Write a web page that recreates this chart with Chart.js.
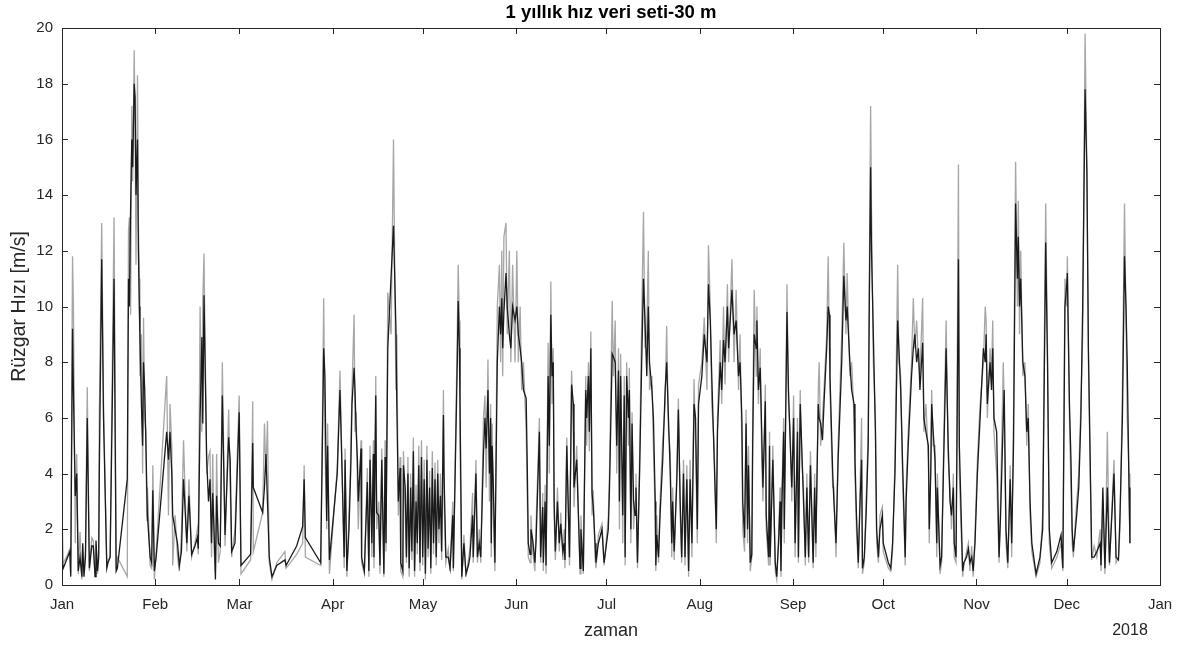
<!DOCTYPE html>
<html>
<head>
<meta charset="utf-8">
<script src="https://cdn.jsdelivr.net/npm/chart.js@4/dist/chart.umd.min.js"></script>
<style>
  html, body { margin: 0; padding: 0; background: #fff; }
  #wrap { width: 1190px; height: 646px; }
</style>
</head>
<body>
<div id="wrap"><canvas id="windChart" width="1190" height="646"></canvas></div>
<script>
// Month tick positions (day of year) and labels
const monthStarts = [0, 31, 59, 90, 120, 151, 181, 212, 243, 273, 304, 334, 365];
const monthLabels = ['Jan', 'Feb', 'Mar', 'Apr', 'May', 'Jun', 'Jul', 'Aug', 'Sep', 'Oct', 'Nov', 'Dec', 'Jan'];
const yearLabel = '2018';

// Day of year for every sample
const days = [
  0.0, 0.4, 1.5, 2.6, 2.9, 3.5, 3.8, 4.4, 4.9, 5.4, 6.0, 6.6, 6.9, 7.3, 7.8, 8.4, 9.1, 9.9, 10.4, 11.0,
  11.3, 11.8, 12.2, 12.4, 13.2, 13.8, 14.9, 15.3, 16.0, 17.3, 18.0, 18.4, 21.7, 22.1, 22.4, 22.8, 23.2, 23.5, 24.0, 24.3,
  24.6, 25.1, 25.4, 25.7, 25.9, 26.4, 26.8, 27.1, 27.5, 27.9, 28.2, 28.4, 29.3, 29.8, 30.2, 30.7, 31.3, 34.8, 35.4, 35.9,
  36.5, 36.8, 37.6, 38.4, 39.0, 39.7, 40.4, 41.5, 42.2, 43.1, 44.2, 45.0, 45.3, 45.9, 46.5, 46.8, 47.2, 48.1, 48.7, 49.2,
  49.7, 50.1, 50.6, 51.0, 51.4, 52.0, 52.6, 53.3, 54.2, 55.4, 55.9, 56.4, 57.5, 58.9, 59.5, 62.7, 63.4, 63.6, 66.7, 67.3,
  67.8, 68.3, 68.9, 69.8, 71.4, 74.1, 74.5, 78.0, 80.0, 80.5, 80.9, 86.0, 87.0, 87.4, 88.0, 88.3, 88.9, 91.5, 92.4, 93.0,
  93.8, 94.1, 94.7, 95.4, 96.0, 96.4, 97.1, 97.4, 97.8, 98.2, 98.5, 99.4, 99.6, 100.5, 101.5, 102.0, 102.4, 103.0, 103.5, 103.7,
  104.3, 104.6, 105.3, 105.7, 106.3, 107.0, 107.4, 107.7, 108.3, 109.4, 110.2, 111.0, 111.3, 111.8, 112.4, 112.6, 113.3, 113.5, 114.1, 114.5,
  115.0, 115.4, 115.9, 116.3, 116.8, 117.2, 117.7, 118.1, 118.6, 119.0, 119.5, 119.9, 120.4, 120.8, 121.3, 121.7, 122.2, 122.6, 123.1, 123.5,
  124.0, 124.4, 124.9, 125.3, 125.8, 126.2, 126.8, 127.0, 127.6, 128.4, 129.0, 129.9, 130.1, 131.4, 131.7, 132.1, 132.3, 132.9, 133.6, 134.3,
  135.1, 135.6, 136.5, 136.7, 137.6, 138.1, 138.7, 139.2, 140.1, 140.6, 141.0, 141.6, 142.1, 142.5, 142.7, 143.0, 143.4, 143.9, 144.7, 145.4,
  145.8, 146.2, 146.5, 146.9, 147.6, 148.0, 148.7, 149.2, 149.8, 150.6, 151.2, 151.7, 152.3, 152.8, 153.4, 154.3, 154.7, 155.0, 155.6, 155.9,
  156.5, 157.2, 157.6, 158.7, 159.1, 159.8, 160.0, 160.6, 160.9, 161.6, 162.0, 162.5, 162.9, 163.3, 163.6, 164.0, 164.7, 165.3, 165.8, 166.5,
  166.9, 167.2, 167.8, 168.7, 169.4, 170.0, 170.2, 171.1, 172.2, 172.5, 173.3, 174.1, 174.4, 175.0, 175.3, 175.8, 176.2, 176.6, 177.2, 177.5,
  178.3, 179.5, 180.2, 181.6, 182.0, 182.9, 183.3, 183.9, 184.4, 185.0, 185.3, 185.7, 186.4, 186.9, 187.2, 187.7, 188.3, 188.6, 189.1, 189.5,
  190.0, 190.5, 190.8, 191.3, 192.0, 192.7, 193.3, 193.8, 194.4, 194.9, 195.3, 196.1, 196.6, 197.2, 197.4, 197.7, 198.3, 198.8, 199.7, 200.5,
  201.0, 201.6, 202.2, 202.7, 203.0, 203.5, 204.4, 204.9, 205.5, 206.0, 206.6, 207.1, 207.7, 208.3, 208.8, 209.4, 210.1, 210.6, 211.2, 211.6,
  212.7, 213.5, 214.4, 214.9, 215.5, 216.0, 216.8, 217.5, 217.9, 218.8, 219.3, 219.9, 220.4, 221.2, 221.6, 222.7, 223.4, 224.1, 224.9, 225.4,
  226.0, 226.3, 226.9, 227.4, 227.9, 228.2, 228.8, 229.3, 229.6, 230.1, 230.8, 231.0, 231.5, 232.1, 232.6, 233.0, 233.8, 234.1, 234.9, 235.2,
  235.4, 236.3, 237.1, 237.6, 238.2, 238.7, 239.0, 239.3, 239.9, 240.1, 241.0, 241.5, 242.1, 242.6, 243.2, 243.7, 244.5, 244.8, 245.4, 245.9,
  246.5, 247.1, 247.6, 248.2, 248.8, 249.7, 250.2, 250.6, 251.4, 251.7, 252.2, 252.8, 253.3, 254.2, 254.7, 255.1, 255.3, 256.2, 256.6, 257.3,
  258.0, 259.2, 259.9, 260.6, 261.0, 261.9, 262.5, 263.3, 263.6, 264.1, 264.7, 265.3, 265.8, 266.1, 266.7, 267.3, 268.0, 268.4, 268.8, 269.1,
  269.7, 270.4, 270.8, 271.4, 271.9, 272.7, 273.0, 274.7, 275.5, 276.1, 276.9, 277.8, 278.2, 278.8, 279.4, 280.3, 280.6, 281.3, 282.4, 283.0,
  283.5, 284.1, 284.7, 285.2, 286.1, 286.5, 287.2, 288.0, 288.3, 288.8, 289.1, 289.6, 290.2, 290.8, 291.0, 291.9, 292.4, 293.0, 293.9, 294.6,
  295.2, 295.7, 296.3, 296.6, 297.2, 298.0, 298.3, 299.4, 299.8, 300.7, 301.3, 301.8, 302.4, 302.9, 303.5, 304.3, 305.2, 306.3, 306.9, 307.2,
  307.6, 308.5, 309.0, 309.4, 309.8, 310.7, 311.5, 312.0, 312.9, 313.2, 313.8, 314.4, 315.2, 315.7, 316.3, 317.0, 317.6, 317.9, 318.3, 318.7,
  319.4, 320.1, 320.7, 321.2, 321.8, 322.4, 323.8, 325.1, 326.0, 327.0, 327.6, 328.2, 329.0, 330.7, 332.1, 332.7, 333.4, 334.0, 334.2, 334.9,
  335.4, 335.8, 336.2, 337.3, 338.0, 338.7, 339.3, 340.1, 340.7, 341.2, 341.5, 342.3, 343.1, 344.0, 345.1, 345.4, 346.0, 346.7, 347.5, 348.2,
  349.7, 350.4, 351.2, 351.7, 352.5, 353.2, 353.7, 354.1, 354.7, 355.0
];

// Dark series (m/s)
const speedDark = [
  1.0, 0.6, 0.9, 1.2, 0.3, 9.2, 7.0, 3.2, 4.0, 0.5, 1.0, 0.3, 1.5, 0.3, 1.0, 6.0, 0.6, 1.4, 1.4, 0.3,
  1.6, 0.5, 1.0, 4.0, 11.7, 6.0, 0.6, 0.8, 1.0, 11.0, 0.5, 0.6, 3.8, 11.0, 10.0, 13.5, 16.0, 15.0, 18.0, 17.5,
  14.0, 16.0, 12.0, 10.0, 9.0, 6.5, 5.0, 8.0, 7.0, 5.0, 3.4, 2.5, 1.0, 0.8, 3.4, 0.5, 1.0, 5.5, 4.5, 5.5,
  4.0, 2.5, 2.0, 1.5, 0.7, 1.2, 3.8, 1.5, 3.2, 1.1, 1.4, 1.7, 1.3, 6.0, 8.9, 5.8, 10.4, 4.5, 3.0, 3.8,
  1.5, 3.3, 1.8, 0.2, 3.2, 1.5, 1.4, 6.8, 1.8, 5.3, 4.5, 1.2, 1.5, 6.2, 0.7, 1.1, 5.1, 3.5, 2.6, 3.5,
  4.7, 3.0, 1.0, 0.3, 0.7, 0.9, 0.7, 1.4, 2.1, 3.8, 1.7, 0.8, 8.5, 7.5, 2.3, 5.0, 0.9, 4.0, 7.0, 4.5,
  1.0, 4.5, 0.5, 2.0, 4.2, 6.5, 7.8, 7.0, 5.5, 4.5, 3.0, 4.9, 1.0, 0.5, 3.7, 0.5, 4.5, 1.5, 4.7, 1.0,
  6.8, 2.6, 2.5, 0.7, 4.5, 0.4, 4.6, 1.5, 8.5, 11.1, 12.9, 9.2, 6.5, 3.0, 4.2, 0.8, 0.5, 4.3, 3.5, 1.0,
  4.0, 0.6, 3.5, 1.2, 4.8, 0.5, 3.0, 1.5, 4.3, 0.8, 4.6, 1.0, 3.8, 0.4, 4.5, 1.3, 3.5, 0.6, 4.2, 1.5,
  3.8, 1.0, 4.0, 2.0, 3.2, 1.2, 6.1, 4.0, 1.0, 1.0, 0.6, 2.5, 0.6, 8.0, 10.2, 8.5, 6.7, 0.3, 1.5, 0.4,
  0.7, 1.0, 2.5, 1.0, 4.0, 1.0, 1.5, 1.0, 4.7, 6.0, 4.9, 7.0, 4.0, 6.0, 1.5, 5.0, 3.5, 0.8, 8.0, 10.0,
  9.0, 10.3, 8.5, 9.8, 11.2, 10.0, 9.0, 8.5, 10.0, 9.5, 10.0, 9.0, 8.5, 8.0, 7.0, 6.7, 4.0, 1.5, 1.1, 2.0,
  1.6, 0.8, 1.6, 5.5, 1.0, 2.8, 0.8, 3.0, 0.7, 7.5, 5.0, 9.7, 7.5, 8.0, 3.0, 1.2, 3.0, 1.5, 2.2, 1.2,
  1.5, 0.9, 5.0, 1.0, 7.2, 6.5, 3.5, 4.5, 0.6, 2.0, 0.5, 7.0, 6.0, 7.5, 5.5, 8.5, 3.3, 2.8, 1.5, 0.8,
  1.5, 2.0, 0.8, 2.0, 3.5, 8.3, 8.2, 8.0, 5.0, 7.7, 3.0, 7.5, 2.5, 6.8, 1.0, 7.5, 6.0, 7.0, 2.0, 5.8,
  3.0, 2.5, 3.5, 0.8, 4.0, 8.0, 11.0, 9.5, 7.5, 10.0, 8.0, 7.0, 6.0, 3.0, 0.7, 1.8, 1.0, 2.5, 4.5, 7.0,
  8.0, 6.0, 4.0, 1.5, 3.0, 1.2, 3.8, 6.3, 3.0, 1.0, 4.0, 1.0, 3.8, 0.5, 3.8, 1.5, 6.5, 6.0, 2.0, 6.5,
  7.5, 9.0, 8.0, 10.8, 9.5, 7.5, 4.5, 2.0, 5.5, 8.0, 7.0, 8.8, 8.0, 10.0, 8.5, 10.6, 9.0, 9.5, 7.5, 8.0,
  6.0, 3.0, 1.7, 5.8, 2.0, 4.3, 0.8, 1.1, 5.0, 9.0, 8.5, 9.5, 7.0, 7.8, 5.5, 3.5, 6.6, 2.5, 1.0, 5.0,
  1.0, 4.5, 0.8, 0.3, 1.5, 3.0, 0.5, 2.8, 5.5, 2.0, 9.8, 7.0, 5.0, 3.5, 6.0, 1.5, 5.5, 1.0, 6.5, 5.0,
  3.0, 1.0, 3.5, 1.0, 4.3, 0.8, 3.5, 1.5, 6.5, 6.0, 5.8, 5.2, 6.5, 8.5, 10.0, 9.7, 7.5, 4.0, 3.0, 1.5,
  4.5, 8.0, 11.1, 9.5, 10.0, 8.0, 7.0, 6.5, 4.5, 2.5, 0.8, 3.0, 4.5, 0.6, 1.0, 2.5, 5.0, 10.5, 15.0, 12.0,
  9.0, 5.5, 2.0, 1.0, 2.0, 2.5, 1.5, 0.8, 0.6, 1.5, 4.0, 9.5, 8.5, 7.0, 4.5, 1.0, 3.0, 5.0, 7.5, 8.5,
  9.0, 8.0, 8.5, 7.0, 8.7, 6.0, 5.5, 5.0, 2.0, 4.0, 6.5, 5.5, 4.5, 1.5, 3.5, 0.7, 1.0, 4.0, 8.5, 5.0,
  3.0, 2.5, 3.5, 1.5, 1.0, 11.7, 5.0, 0.5, 0.8, 1.0, 1.3, 0.8, 1.0, 0.5, 1.5, 4.0, 6.0, 8.5, 8.0, 9.0,
  6.5, 8.0, 7.0, 8.5, 6.0, 5.5, 1.0, 2.5, 6.0, 7.0, 2.0, 0.8, 3.8, 1.5, 5.0, 13.7, 11.0, 12.5, 10.0, 11.0,
  8.0, 7.5, 5.5, 6.0, 3.0, 1.5, 0.4, 1.0, 2.0, 12.3, 8.0, 2.0, 0.8, 1.2, 1.8, 0.6, 10.0, 10.8, 11.2, 6.5,
  4.5, 2.0, 1.2, 2.5, 3.5, 6.0, 10.0, 17.8, 14.8, 8.5, 6.5, 1.0, 1.0, 1.2, 1.5, 0.7, 3.5, 0.6, 3.5, 0.8,
  4.0, 1.0, 0.9, 2.5, 6.0, 11.8, 10.0, 8.0, 3.5, 1.5
];

// Light series (m/s)
const speedLight = [
  2.7, 0.8, 1.0, 1.3, 0.4, 11.8, 10.0, 1.5, 4.7, 0.4, 1.9, 0.2, 1.0, 0.5, 1.2, 7.1, 0.5, 1.7, 1.6, 0.3,
  1.5, 0.4, 1.2, 6.0, 13.0, 6.5, 0.7, 0.9, 1.0, 13.2, 0.6, 1.0, 0.3, 12.7, 13.2, 9.7, 17.2, 14.5, 19.2, 16.5,
  11.5, 18.3, 13.0, 11.0, 7.5, 9.0, 4.0, 9.6, 6.0, 5.5, 2.3, 3.5, 0.7, 0.6, 4.3, 0.2, 1.2, 7.5, 2.5, 6.5,
  5.0, 0.7, 2.5, 1.0, 0.5, 1.8, 5.2, 1.2, 3.8, 1.0, 1.5, 2.0, 1.1, 10.0, 5.5, 10.2, 11.9, 4.0, 4.6, 4.8,
  1.0, 4.7, 1.2, 0.4, 4.7, 0.8, 1.2, 8.0, 1.4, 6.3, 3.5, 1.0, 2.0, 6.8, 0.4, 0.9, 6.6, 1.2, 2.6, 5.8,
  4.0, 5.9, 0.8, 0.2, 0.8, 1.2, 0.6, 1.1, 1.5, 4.3, 1.0, 0.7, 10.3, 5.0, 2.0, 5.8, 0.4, 4.2, 7.7, 4.8,
  0.6, 4.9, 0.3, 2.5, 4.8, 7.0, 9.7, 5.5, 6.2, 3.5, 2.0, 5.2, 0.8, 0.4, 4.2, 0.3, 5.0, 1.0, 5.2, 0.6,
  7.5, 2.0, 3.0, 0.4, 4.9, 0.3, 5.2, 1.2, 10.5, 9.0, 16.0, 7.0, 9.0, 2.5, 4.6, 0.5, 0.3, 4.8, 2.5, 0.8,
  4.6, 0.3, 4.0, 0.9, 5.3, 0.3, 3.6, 1.1, 5.0, 0.5, 5.2, 0.7, 4.5, 0.2, 5.0, 1.0, 4.1, 0.4, 4.8, 1.1,
  4.4, 0.7, 4.5, 1.5, 4.0, 0.9, 7.0, 3.0, 0.8, 1.3, 0.5, 3.0, 0.5, 9.0, 11.5, 9.5, 5.0, 0.2, 1.8, 0.3,
  0.9, 1.3, 3.3, 0.8, 4.5, 0.8, 2.0, 0.8, 6.0, 6.8, 3.5, 8.1, 3.0, 6.5, 1.0, 5.8, 2.5, 0.5, 10.0, 11.5,
  8.0, 12.0, 7.5, 12.5, 13.0, 9.0, 12.0, 8.0, 11.5, 8.0, 12.0, 8.0, 10.0, 7.0, 8.0, 5.5, 3.0, 1.0, 0.8, 2.5,
  1.2, 0.5, 2.2, 6.0, 0.8, 3.3, 0.5, 3.6, 0.4, 8.7, 4.0, 10.9, 6.5, 8.5, 2.5, 0.9, 3.5, 1.2, 2.6, 0.9,
  2.0, 0.6, 5.3, 0.7, 7.7, 5.5, 2.8, 5.0, 0.4, 2.5, 0.4, 7.5, 5.0, 8.0, 4.8, 9.1, 2.5, 3.4, 1.0, 0.6,
  1.8, 2.2, 0.7, 2.4, 4.0, 10.2, 7.5, 9.5, 4.0, 8.5, 2.0, 8.3, 1.5, 7.5, 0.7, 8.0, 5.0, 7.8, 1.5, 6.2,
  2.0, 3.0, 4.0, 0.6, 4.5, 9.5, 13.4, 8.5, 9.0, 12.0, 7.0, 7.5, 5.0, 2.5, 0.5, 2.5, 0.8, 3.0, 5.2, 6.5,
  9.3, 5.5, 4.8, 1.0, 3.5, 0.9, 4.2, 6.7, 2.5, 0.8, 4.5, 0.7, 4.3, 0.3, 4.5, 1.0, 7.4, 5.0, 1.5, 7.2,
  8.0, 9.6, 7.0, 12.2, 10.0, 6.5, 5.0, 1.5, 6.0, 8.8, 6.5, 10.0, 7.2, 10.8, 8.0, 11.7, 8.0, 10.6, 7.0, 9.0,
  5.0, 2.0, 1.2, 6.3, 1.5, 5.0, 0.5, 1.0, 6.0, 10.6, 7.5, 10.0, 6.5, 8.5, 4.5, 3.0, 7.2, 2.0, 0.7, 5.5,
  0.7, 5.0, 0.5, 0.2, 1.8, 3.5, 0.3, 3.2, 6.0, 1.5, 10.8, 6.5, 5.5, 3.0, 6.8, 1.0, 6.0, 0.8, 7.0, 4.5,
  3.5, 0.7, 4.0, 0.8, 4.8, 0.6, 4.0, 1.0, 7.0, 8.0, 5.0, 6.0, 7.0, 9.0, 11.8, 8.5, 7.0, 3.5, 3.5, 1.0,
  5.0, 9.0, 12.3, 9.0, 11.2, 7.5, 8.0, 6.0, 4.0, 2.0, 0.6, 3.5, 6.0, 0.4, 0.8, 3.0, 5.5, 11.5, 17.2, 13.5,
  8.0, 6.0, 1.5, 0.8, 2.5, 2.8, 1.2, 0.6, 0.5, 1.2, 4.5, 11.5, 8.0, 7.5, 4.0, 0.7, 3.5, 5.5, 8.0, 10.3,
  8.5, 9.5, 8.0, 7.5, 10.3, 5.5, 6.5, 4.5, 1.5, 4.5, 7.0, 5.0, 5.0, 1.0, 4.0, 0.4, 0.8, 4.5, 9.5, 4.5,
  3.5, 2.0, 4.0, 1.0, 0.8, 15.1, 4.0, 0.3, 0.7, 1.2, 1.5, 0.5, 1.4, 0.3, 1.8, 4.5, 6.5, 8.0, 10.0, 9.5,
  6.0, 8.5, 7.5, 9.5, 5.5, 4.0, 0.8, 3.0, 8.0, 6.5, 1.5, 0.6, 4.3, 1.0, 6.0, 15.2, 10.0, 13.8, 9.0, 12.0,
  7.5, 8.0, 5.0, 6.5, 2.5, 1.2, 0.3, 0.8, 2.5, 13.7, 8.5, 1.5, 0.6, 1.0, 1.5, 0.5, 11.0, 10.0, 11.8, 6.0,
  3.5, 1.5, 1.0, 3.0, 4.0, 6.5, 9.0, 19.8, 15.0, 8.0, 6.0, 0.9, 1.4, 1.0, 2.0, 0.5, 3.0, 0.4, 5.5, 0.7,
  4.5, 0.8, 1.0, 2.0, 7.0, 13.7, 9.5, 6.0, 4.0, 1.5
];

const yTicks = [0, 2, 4, 6, 8, 10, 12, 14, 16, 18, 20];

const axisColor = '#262626';
const fontName = '"Liberation Sans", Arial, Helvetica, sans-serif';

// MATLAB style box with inward ticks on all four sides
const matlabBox = {
  id: 'matlabBox',
  afterDraw(chart) {
    const { ctx, chartArea: a, scales: { x, y } } = chart;
    ctx.save();
    ctx.strokeStyle = axisColor;
    ctx.lineWidth = 1;
    ctx.strokeRect(Math.round(a.left) + 0.5, Math.round(a.top) + 0.5,
      Math.round(a.right - a.left), Math.round(a.bottom - a.top));
    ctx.beginPath();
    monthStarts.forEach(v => {
      const px = Math.round(x.getPixelForValue(v)) + 0.5;
      ctx.moveTo(px, a.bottom); ctx.lineTo(px, a.bottom - 6);
      ctx.moveTo(px, a.top); ctx.lineTo(px, a.top + 6);
    });
    yTicks.forEach(v => {
      const py = Math.round(y.getPixelForValue(v)) + 0.5;
      ctx.moveTo(a.left, py); ctx.lineTo(a.left + 6, py);
      ctx.moveTo(a.right, py); ctx.lineTo(a.right - 6, py);
    });
    ctx.stroke();
    ctx.fillStyle = axisColor;
    ctx.font = '16px ' + fontName;
    ctx.textAlign = 'center';
    ctx.textBaseline = 'middle';
    ctx.fillText(yearLabel, x.getPixelForValue(365) - 30, 631);
    ctx.restore();
  }
};

const ctx = document.getElementById('windChart').getContext('2d');
new Chart(ctx, {
  type: 'line',
  data: {
    datasets: [
      {
        label: 'speedDark',
        data: days.map((d, i) => ({ x: d, y: speedDark[i] })),
        borderColor: '#1a1a1a',
        borderWidth: 1.3,
        pointRadius: 0,
        tension: 0,
        order: 0
      },
      {
        label: 'speedLight',
        data: days.map((d, i) => ({ x: d, y: speedLight[i] })),
        borderColor: '#a6a6a6',
        borderWidth: 1.3,
        pointRadius: 0,
        tension: 0,
        order: 1
      }
    ]
  },
  options: {
    responsive: false,
    animation: false,
    layout: { padding: { left: 0, right: 30, top: 0, bottom: 0 } },
    plugins: {
      legend: { display: false },
      tooltip: { enabled: false },
      title: {
        display: true,
        fullSize: false,
        text: '1 yıllık hız veri seti-30 m',
        color: '#000',
        font: { family: fontName, size: 18.5, weight: 'bold' },
        padding: { top: 2, bottom: 3.8 }
      }
    },
    scales: {
      x: {
        type: 'linear',
        min: 0,
        max: 365,
        afterBuildTicks: s => { s.ticks = monthStarts.map(v => ({ value: v })); },
        afterFit: s => { s.height = 61; },
        grid: { display: false, drawTicks: false },
        border: { display: false },
        ticks: {
          autoSkip: false,
          maxRotation: 0,
          padding: 11,
          color: axisColor,
          font: { family: fontName, size: 15 },
          callback: (v, i) => monthLabels[i]
        },
        title: {
          display: true,
          text: 'zaman',
          color: axisColor,
          font: { family: fontName, size: 18 },
          padding: { top: 0, bottom: 4 }
        }
      },
      y: {
        min: 0,
        max: 20,
        afterBuildTicks: s => { s.ticks = yTicks.map(v => ({ value: v })); },
        afterFit: s => { s.width = 62; },
        grid: { display: false, drawTicks: false },
        border: { display: false },
        ticks: {
          padding: 9,
          color: axisColor,
          font: { family: fontName, size: 15 }
        },
        title: {
          display: true,
          text: 'Rüzgar Hızı [m/s]',
          color: axisColor,
          font: { family: fontName, size: 19.5 },
          padding: { top: 8, bottom: 0 }
        }
      }
    }
  },
  plugins: [matlabBox]
});
</script>
</body>
</html>
